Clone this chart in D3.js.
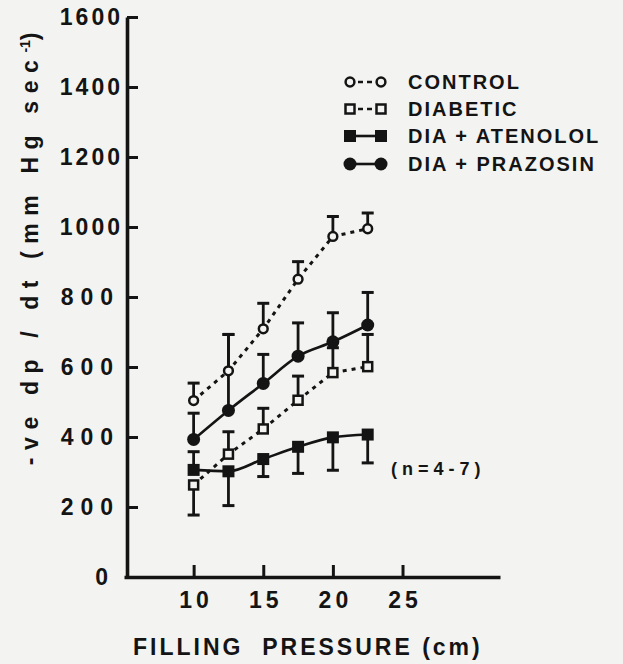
<!DOCTYPE html>
<html>
<head>
<meta charset="utf-8">
<script src="https://cdn.jsdelivr.net/npm/d3@7"></script>
<style>
  html, body { margin: 0; padding: 0; background: #f3f3f1; }
  svg { display: block; }
  text { font-family: "Liberation Sans", Arial, sans-serif; font-weight: bold; fill: #141414; }
</style>
</head>
<body>
<svg id="chart" width="623" height="664"></svg>
<script>
// ---- data ----
const fillingPressure = [10, 12.5, 15, 17.5, 20, 22.5];

const controlMean   = [504, 589, 709, 851, 973, 995];
const controlHigh   = [554, 693, 782, 901, 1030, 1040];
const controlLow    = [null, null, null, null, null, null];

const diabeticMean  = [263, 351, 423, 505, 584, 601];
const diabeticHigh  = [null, 415, 482, 574, 655, 693];
const diabeticLow   = [177, null, null, null, null, null];

const atenololMean  = [306, 302, 337, 372, 399, 407];
const atenololHigh  = [358, null, null, null, null, null];
const atenololLow   = [null, 204, 287, 296, 305, 326];

const prazosinMean  = [393, 476, 553, 631, 672, 720];
const prazosinHigh  = [468, 693, 636, 726, 755, 813];
const prazosinLow   = [null, null, null, null, null, null];

const seriesNames = ["CONTROL", "DIABETIC", "DIA + ATENOLOL", "DIA + PRAZOSIN"];
const yTickValues = [0, 200, 400, 600, 800, 1000, 1200, 1400, 1600];
const xTickValues = [10, 15, 20, 25];
const yTitle = "-ve dp / dt (mm Hg sec";
const yTitleSup = "-1";
const xTitle = "FILLING  PRESSURE (cm)";
const note = "(n=4-7)";

// ---- setup ----
const ink = "#141414";
const bg = "#f3f3f1";
const svg = d3.select("#chart");

const x = d3.scaleLinear().domain([5, 32]).range([124, 500]);
const y = d3.scaleLinear().domain([0, 1600]).range([577, 17]);

const series = [
  { name: seriesNames[0], mean: controlMean, hi: controlHigh, lo: controlLow, marker: "openCircle", dashed: true, curve: d3.curveLinear },
  { name: seriesNames[1], mean: diabeticMean, hi: diabeticHigh, lo: diabeticLow, marker: "openSquare", dashed: true, curve: d3.curveLinear },
  { name: seriesNames[2], mean: atenololMean, hi: atenololHigh, lo: atenololLow, marker: "filledSquare", dashed: false, curve: d3.curveMonotoneX },
  { name: seriesNames[3], mean: prazosinMean, hi: prazosinHigh, lo: prazosinLow, marker: "filledCircle", dashed: false, curve: d3.curveMonotoneX }
];

// ---- axes ----
const yAxis = d3.axisLeft(y).tickValues(yTickValues).tickFormat(d3.format("d"))
  .tickSize(-11).tickSizeOuter(0).tickPadding(9);
const gy = svg.append("g").attr("transform", "translate(127,0)").call(yAxis);
gy.selectAll("path.domain").attr("stroke", ink).attr("stroke-width", 3.6);
gy.selectAll(".tick line").attr("stroke", ink).attr("stroke-width", 3);
gy.selectAll(".tick text")
  .attr("fill", ink)
  .style("font-size", "23px")
  .style("font-family", "'Liberation Sans', Arial, sans-serif")
  .style("font-weight", "bold")
  .style("letter-spacing", d => (String(d).length >= 4 ? "3px" : (String(d).length === 3 ? "7px" : "0px")))
  .attr("dx", d => (d === 0 ? -10 : (String(d).length === 3 ? 2 : 5)));

const xAxis = d3.axisBottom(x).tickValues(xTickValues).tickFormat(d3.format("d"))
  .tickSize(-12).tickSizeOuter(0).tickPadding(15);
const gx = svg.append("g").attr("transform", "translate(0,577)").call(xAxis);
gx.selectAll("path.domain").attr("stroke", ink).attr("stroke-width", 3.6);
gx.selectAll(".tick line").attr("stroke", ink).attr("stroke-width", 3);
gx.selectAll(".tick text")
  .attr("fill", ink)
  .style("font-size", "23px")
  .style("font-family", "'Liberation Sans', Arial, sans-serif")
  .style("font-weight", "bold")
  .style("letter-spacing", "4px")
  .attr("dx", 2);

// ---- titles ----
const yt = svg.append("text")
  .attr("transform", "translate(38,245) rotate(-90)")
  .attr("text-anchor", "middle")
  .style("font-size", "23px")
  .style("letter-spacing", "7.6px");
yt.append("tspan").text(yTitle);
yt.append("tspan").attr("baseline-shift", "super").style("font-size", "14px").style("letter-spacing", "0px").text(yTitleSup);
yt.append("tspan").text(")");

svg.append("text")
  .attr("x", 133).attr("y", 655)
  .style("font-size", "23px")
  .style("letter-spacing", "3px")
  .style("white-space", "pre")
  .text(xTitle);

svg.append("text")
  .attr("x", 391).attr("y", 475)
  .style("font-size", "18px")
  .style("letter-spacing", "5px")
  .text(note);

// ---- helpers ----
function drawMarker(g, type, cx, cy) {
  if (type === "openCircle") {
    g.append("circle").attr("cx", cx).attr("cy", cy).attr("r", 4.4)
      .attr("fill", bg).attr("stroke", ink).attr("stroke-width", 2.5);
  } else if (type === "filledCircle") {
    g.append("circle").attr("cx", cx).attr("cy", cy).attr("r", 6.5).attr("fill", ink);
  } else if (type === "openSquare") {
    g.append("rect").attr("x", cx - 4.5).attr("y", cy - 4.5).attr("width", 9).attr("height", 9)
      .attr("fill", bg).attr("stroke", ink).attr("stroke-width", 2.5);
  } else if (type === "filledSquare") {
    g.append("rect").attr("x", cx - 6).attr("y", cy - 6).attr("width", 12).attr("height", 12).attr("fill", ink);
  }
}

// ---- error bars ----
const gErr = svg.append("g");
series.forEach(s => {
  s.mean.forEach((m, i) => {
    const cx = x(fillingPressure[i]);
    [s.hi[i], s.lo[i]].forEach(end => {
      if (end === null || end === undefined) return;
      gErr.append("line").attr("x1", cx).attr("x2", cx).attr("y1", y(m)).attr("y2", y(end))
        .attr("stroke", ink).attr("stroke-width", 2.8);
      gErr.append("line").attr("x1", cx - 6).attr("x2", cx + 6).attr("y1", y(end)).attr("y2", y(end))
        .attr("stroke", ink).attr("stroke-width", 3);
    });
  });
});

// ---- lines ----
const gLines = svg.append("g");
series.forEach(s => {
  const line = d3.line().x((d, i) => x(fillingPressure[i])).y(d => y(d)).curve(s.curve);
  gLines.append("path").attr("d", line(s.mean))
    .attr("fill", "none").attr("stroke", ink)
    .attr("stroke-width", s.dashed ? 3 : 2.6)
    .attr("stroke-dasharray", s.dashed ? "4,5" : null);
});

// ---- markers ----
const gMarks = svg.append("g");
series.forEach(s => {
  s.mean.forEach((m, i) => drawMarker(gMarks, s.marker, x(fillingPressure[i]), y(m)));
});

// ---- legend ----
const legendRows = [82, 109, 136, 164];
const gLeg = svg.append("g");
series.forEach((s, i) => {
  const ly = legendRows[i];
  gLeg.append("line").attr("x1", 350).attr("x2", 381).attr("y1", ly).attr("y2", ly)
    .attr("stroke", ink).attr("stroke-width", 2.6)
    .attr("stroke-dasharray", s.dashed ? "5,4" : null)
    .attr("stroke-dashoffset", s.dashed ? -8 : 0);
  drawMarker(gLeg, s.marker, 350, ly);
  drawMarker(gLeg, s.marker, 381, ly);
  gLeg.append("text").attr("x", 408).attr("y", ly).attr("dy", "0.36em")
    .style("font-size", "20px").style("letter-spacing", "2px")
    .text(s.name);
});
</script>
</body>
</html>
